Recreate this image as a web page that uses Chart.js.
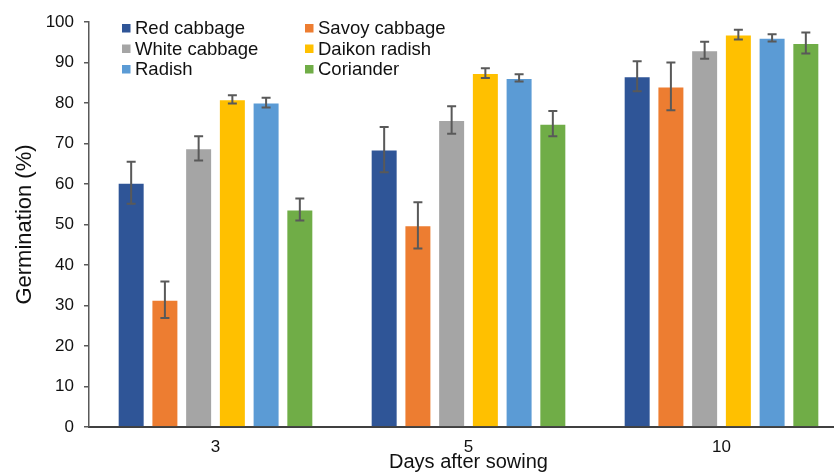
<!DOCTYPE html>
<html>
<head>
<meta charset="utf-8">
<script src="https://cdn.jsdelivr.net/npm/chart.js@4"></script>
<style>
  html, body { margin: 0; padding: 0; background: #fff; overflow: hidden; }
  #wrap { width: 848px; height: 480px; }
</style>
</head>
<body>
<div id="wrap"><canvas id="myChart" width="848" height="480"></canvas></div>
<script>
var days = ['3', '5', '10'];
var crops = ['Red cabbage', 'Savoy cabbage', 'White cabbage', 'Daikon radish', 'Radish', 'Coriander'];
var colors = ['#2F5597', '#ED7D31', '#A5A5A5', '#FFC000', '#5B9BD5', '#70AD47'];

// mean germination (%) per day
var redCabbage = [60.3, 68.5, 86.6];
var savoyCabbage = [31.4, 49.8, 84.1];
var whiteCabbage = [68.8, 75.8, 93.0];
var daikonRadish = [80.9, 87.4, 96.9];
var radish = [80.1, 86.2, 96.1];
var coriander = [53.7, 74.9, 94.8];

// error (+/-)
var redErr = [5.2, 5.6, 3.7];
var savoyErr = [4.5, 5.7, 5.9];
var whiteErr = [3.0, 3.4, 2.1];
var daikonErr = [1.0, 1.2, 1.2];
var radishErr = [1.2, 0.9, 0.9];
var corianderErr = [2.7, 3.1, 2.6];

var values = [redCabbage, savoyCabbage, whiteCabbage, daikonRadish, radish, coriander];
var errors = [redErr, savoyErr, whiteErr, daikonErr, radishErr, corianderErr];

var font = '"Liberation Sans", Arial, Helvetica, sans-serif';

var errorBars = {
  id: 'errorBars',
  afterDatasetsDraw: function(chart) {
    var c = chart.ctx;
    var y = chart.scales.y;
    c.save();
    c.strokeStyle = '#595959';
    c.lineWidth = 2;
    chart.data.datasets.forEach(function(ds, i) {
      var meta = chart.getDatasetMeta(i);
      meta.data.forEach(function(bar, j) {
        var v = ds.data[j], e = ds.errors[j];
        var top = y.getPixelForValue(v + e);
        var bot = y.getPixelForValue(v - e);
        c.beginPath();
        c.moveTo(bar.x, top); c.lineTo(bar.x, bot);
        c.moveTo(bar.x - 4.5, top); c.lineTo(bar.x + 4.5, top);
        c.moveTo(bar.x - 4.5, bot); c.lineTo(bar.x + 4.5, bot);
        c.stroke();
      });
    });
    c.restore();
  }
};

var gridLegend = {
  id: 'gridLegend',
  afterDraw: function(chart) {
    var c = chart.ctx;
    c.save();
    c.font = '18.5px ' + font;
    c.textBaseline = 'middle';
    chart.data.datasets.forEach(function(ds, i) {
      var col = i % 2, row = Math.floor(i / 2);
      var bx = col === 0 ? 122 : 305;
      var cy = 28 + row * 20.5;
      c.fillStyle = ds.backgroundColor;
      c.fillRect(bx, cy - 4, 8.5, 8.5);
      c.fillStyle = '#111';
      c.fillText(ds.label, bx + 13, cy + 1);
    });
    c.restore();
  }
};

var ctx = document.getElementById('myChart');
var myChart = new Chart(ctx, {
  type: 'bar',
  data: {
    labels: days,
    datasets: crops.map(function(name, i) {
      return {
        label: name,
        data: values[i],
        errors: errors[i],
        backgroundColor: colors[i],
        borderColor: 'rgba(255,255,255,0.25)',
        borderWidth: 1,
        categoryPercentage: 0.8,
        barPercentage: 0.8
      };
    })
  },
  options: {
    responsive: false,
    maintainAspectRatio: false,
    animation: false,
    layout: { padding: { top: 22, left: 0, right: 0, bottom: 0 } },
    plugins: {
      legend: { display: false },
      tooltip: { enabled: false }
    },
    scales: {
      x: {
        grid: { display: false },
        border: { display: true, color: '#404040', width: 2 },
        ticks: { color: '#111', font: { family: font, size: 17 }, padding: 2 },
        title: {
          display: true, text: 'Days after sowing', color: '#111',
          font: { family: font, size: 20 }, padding: { top: 0, bottom: 6 }
        },
        afterFit: function(s) { s.height = 53; }
      },
      y: {
        min: 0, max: 100,
        grid: { drawOnChartArea: false, drawTicks: true, tickLength: 5, color: '#595959', lineWidth: 1.5 },
        border: { display: true, color: '#595959', width: 1.5 },
        ticks: { stepSize: 10, color: '#111', font: { family: font, size: 17 }, padding: 10 },
        title: {
          display: true, text: 'Germination (%)', color: '#111',
          font: { family: font, size: 22 }, padding: { top: 12, bottom: 0 }
        },
        afterFit: function(s) { s.width = 89; }
      }
    }
  },
  plugins: [errorBars, gridLegend]
});
</script>
</body>
</html>
